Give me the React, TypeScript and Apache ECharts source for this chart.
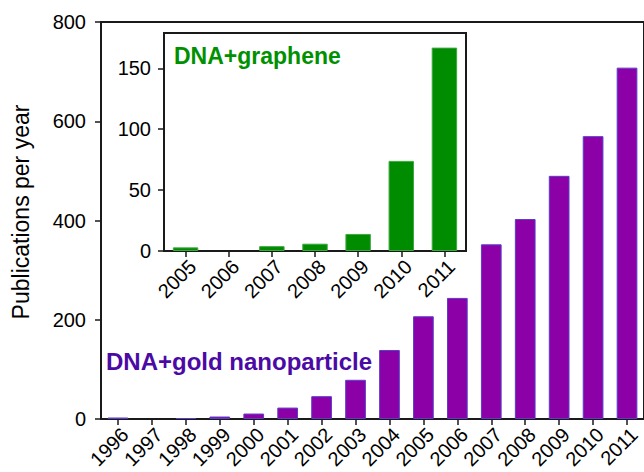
import React, { useEffect, useRef } from 'react';
import * as echarts from 'echarts';

const mainYears = ['1996', '1997', '1998', '1999', '2000', '2001', '2002', '2003', '2004', '2005', '2006', '2007', '2008', '2009', '2010', '2011'];
const mainValues = [3, 0, 2, 5, 11, 23, 46, 79, 139, 207, 244, 352, 403, 490, 570, 708];
const insetYears = ['2005', '2006', '2007', '2008', '2009', '2010', '2011'];
const insetValues = [3, 0, 4, 6, 14, 74, 167];
const mainYTicks = [0, 200, 400, 600, 800];
const insetYTicks = [0, 50, 100, 150];

const FONT = "'Liberation Sans', Arial, sans-serif";
const AXIS = '#1a1a1a';

const toData = (vals: number[]) => vals.map((v) => (v === 0 ? { value: 0, itemStyle: { borderWidth: 0 } } : v));

export default function App() {
  const ref = useRef<HTMLDivElement>(null);
  useEffect(() => {
    document.body.style.margin = '0';
    if (!ref.current) return;
    const chart = echarts.init(ref.current, null, { renderer: 'svg' });
    const axisLine = { show: true, lineStyle: { color: AXIS, width: 2 } };
    const tick = { show: true, length: 6, lineStyle: { color: AXIS, width: 1.5 } };
    const xLabel = { interval: 0, rotate: 45, fontSize: 20, color: '#000', fontFamily: FONT, margin: 5, verticalAlign: 'top' };
    chart.setOption({
      animation: false,
      backgroundColor: '#fff',
      grid: [
        { left: 101, top: 22, right: -7, bottom: 53, show: true, borderColor: AXIS, borderWidth: 2, backgroundColor: 'transparent' },
        { left: 164, top: 33, right: 178, bottom: 221, show: true, borderColor: AXIS, borderWidth: 2, backgroundColor: '#fff' },
      ],
      xAxis: [
        {
          type: 'category', gridIndex: 0, data: mainYears,
          axisLine, axisTick: { ...tick, alignWithLabel: true, interval: 0 },
          axisLabel: xLabel,
        },
        {
          type: 'category', gridIndex: 1, data: insetYears,
          axisLine, axisTick: { ...tick, alignWithLabel: true, interval: 0 },
          axisLabel: xLabel,
        },
      ],
      yAxis: [
        {
          type: 'value', gridIndex: 0, min: 0, max: 800, interval: 200,
          axisLine, axisTick: { ...tick, customValues: mainYTicks },
          splitLine: { show: false },
          axisLabel: { fontSize: 20, color: '#000', fontFamily: FONT, margin: 15, customValues: mainYTicks },
        },
        {
          type: 'value', gridIndex: 1, min: 0, max: 179, interval: 50,
          axisLine, axisTick: { ...tick, customValues: insetYTicks },
          splitLine: { show: false },
          axisLabel: { fontSize: 20, color: '#000', fontFamily: FONT, margin: 13, customValues: insetYTicks },
        },
      ],
      series: [
        {
          type: 'bar', xAxisIndex: 0, yAxisIndex: 0, data: toData(mainValues), barWidth: '61%',
          itemStyle: { color: '#8c00a8', borderColor: '#5a3dc8', borderWidth: 1 },
        },
        {
          type: 'bar', xAxisIndex: 1, yAxisIndex: 1, data: toData(insetValues), barWidth: '59%',
          itemStyle: { color: '#008c00', borderColor: '#40a840', borderWidth: 1 },
        },
      ],
      graphic: [
        {
          type: 'text', x: 21, y: 212, rotation: Math.PI / 2,
          style: { text: 'Publications per year', fontSize: 23, fontFamily: FONT, fill: '#000', align: 'center', verticalAlign: 'middle' },
        },
        {
          type: 'text', x: 106, y: 361,
          style: { text: 'DNA+gold nanoparticle', fontSize: 24, fontWeight: 'bold', fontFamily: FONT, fill: '#4b0aa5', align: 'left', verticalAlign: 'middle' },
        },
        {
          type: 'text', x: 174, y: 56,
          style: { text: 'DNA+graphene', fontSize: 23, fontWeight: 'bold', fontFamily: FONT, fill: '#009000', align: 'left', verticalAlign: 'middle' },
        },
      ],
    });
    return () => chart.dispose();
  }, []);
  return <div ref={ref} style={{ width: 644, height: 472 }} />;
}
